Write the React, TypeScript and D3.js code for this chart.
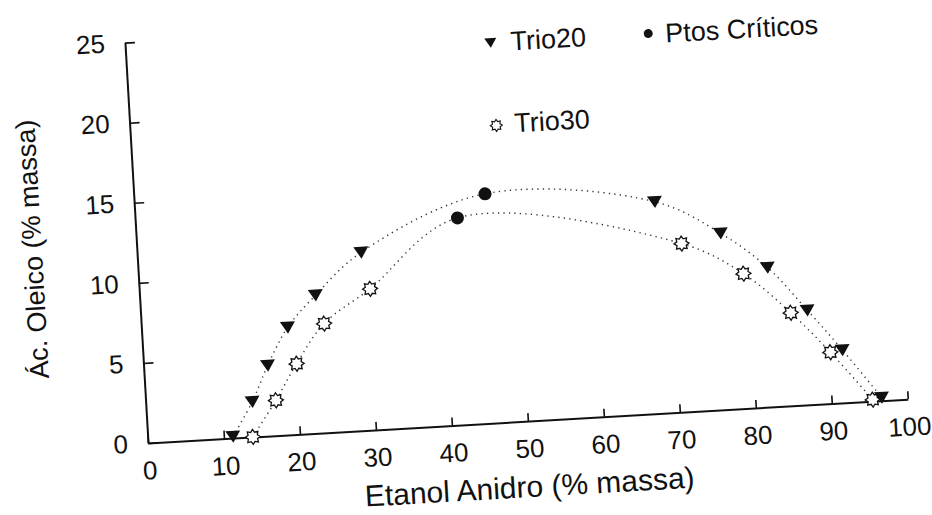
import React, { useEffect, useRef } from 'react';
import * as d3 from 'd3';

// values (% massa)
const trio20X = [11.2, 14.0, 16.3, 19.2, 23.1, 29.4, 68.3, 76.7, 82.6, 87.5, 91.8, 96.6];
const trio20Y = [0.1, 2.2, 4.4, 6.7, 8.6, 11.1, 13.2, 11.0, 8.7, 5.9, 3.3, 0.2];
const trio30X = [13.8, 17.1, 20.1, 24.0, 30.3, 71.5, 79.4, 85.3, 90.2, 95.4];
const trio30Y = [0.0, 2.2, 4.4, 6.8, 8.8, 10.5, 8.4, 5.8, 3.2, 0.1];
// critical points: first belongs to Trio20, second to Trio30
const criticoX = [46.1, 42.3];
const criticoY = [14.3, 12.9];

const xTicks = [0, 10, 20, 30, 40, 50, 60, 70, 80, 90, 100];
const yTicks = [0, 5, 10, 15, 20, 25];

const W = 932;
const H = 515;
const ORIGIN = { x: 148, y: 443 };
const TILT = -3.3; // the scan is slightly rotated
const PLOT_W = 761;
const PLOT_H = 401;
const FONT = '"Liberation Sans", Arial, Helvetica, sans-serif';

type Pt = { x: number; y: number };

const zip = (xs: number[], ys: number[]): Pt[] => xs.map((x, i) => ({ x, y: ys[i] }));

const starPath = (outer: number, inner: number, n = 8) => {
  const pts: [number, number][] = d3.range(n * 2).map(i => [(i * Math.PI) / n, i % 2 ? inner : outer]);
  return d3.lineRadial().curve(d3.curveLinearClosed)(pts) as string;
};

const triPath = (s: number) => `M${-s},${-0.75 * s}L${s},${-0.75 * s}L0,${0.85 * s}Z`;

const Chart = () => {
  const svgRef = useRef<SVGSVGElement>(null);

  useEffect(() => {
    if (!svgRef.current) return;
    const svg = d3.select(svgRef.current);
    svg.selectAll('*').remove();

    const trio20 = zip(trio20X, trio20Y);
    const trio30 = zip(trio30X, trio30Y);
    const criticos = zip(criticoX, criticoY);

    const x = d3.scaleLinear().domain([0, 100]).range([0, PLOT_W]);
    const y = d3.scaleLinear().domain([0, 25]).range([0, -PLOT_H]);

    const g = svg.append('g')
      .attr('transform', `translate(${ORIGIN.x},${ORIGIN.y}) rotate(${TILT})`);

    // axes, ticks pointing inwards
    const xAxis = d3.axisBottom(x).tickValues(xTicks).tickSizeInner(-8).tickSizeOuter(0).tickPadding(18);
    const yAxis = d3.axisLeft(y).tickValues(yTicks).tickSizeInner(-10).tickSizeOuter(0).tickPadding(20);

    const gx = g.append('g').call(xAxis);
    const gy = g.append('g').call(yAxis);
    [gx, gy].forEach(a => {
      a.attr('font-family', FONT).attr('font-size', 26);
      a.select('.domain').attr('stroke', '#111').attr('stroke-width', 2);
      a.selectAll('.tick line').attr('stroke', '#111').attr('stroke-width', 1.6);
      a.selectAll('.tick text').attr('fill', '#111');
    });

    // fitted dotted curves through each series + its critical point
    const line = d3.line<Pt>()
      .x(d => x(d.x))
      .y(d => y(d.y))
      .curve(d3.curveCatmullRom.alpha(0.5));

    const curve20 = [...trio20, criticos[0]].sort((a, b) => a.x - b.x);
    const curve30 = [...trio30, criticos[1]].sort((a, b) => a.x - b.x);

    [curve20, curve30].forEach(c => {
      g.append('path')
        .datum(c)
        .attr('fill', 'none')
        .attr('stroke', '#333')
        .attr('stroke-width', 1.4)
        .attr('stroke-dasharray', '1.3 4.2')
        .attr('d', line);
    });

    const star = starPath(7.5, 5);
    g.append('g').selectAll('path')
      .data(trio30)
      .join('path')
      .attr('transform', d => `translate(${x(d.x)},${y(d.y)})`)
      .attr('d', star)
      .attr('fill', '#fff')
      .attr('stroke', '#111')
      .attr('stroke-width', 1.3);

    g.append('g').selectAll('path')
      .data(trio20)
      .join('path')
      .attr('transform', d => `translate(${x(d.x)},${y(d.y)})`)
      .attr('d', triPath(7.5))
      .attr('fill', '#111');

    g.append('g').selectAll('circle')
      .data(criticos)
      .join('circle')
      .attr('cx', d => x(d.x))
      .attr('cy', d => y(d.y))
      .attr('r', 6.5)
      .attr('fill', '#111');

    // legend
    const legend = g.append('g').attr('font-family', FONT).attr('font-size', 27).attr('fill', '#111');
    legend.append('path').attr('transform', 'translate(365,-380)').attr('d', triPath(6)).attr('fill', '#111');
    legend.append('text').attr('x', 385).attr('y', -371).text('Trio20');
    legend.append('circle').attr('cx', 523).attr('cy', -380).attr('r', 4.5).attr('fill', '#111');
    legend.append('text').attr('x', 540).attr('y', -370).text('Ptos Críticos');
    legend.append('path').attr('transform', 'translate(366,-297)').attr('d', starPath(6, 4)).attr('fill', '#fff').attr('stroke', '#111').attr('stroke-width', 1.1);
    legend.append('text').attr('x', 384).attr('y', -289).text('Trio30');

    // axis titles
    g.append('text')
      .attr('x', PLOT_W / 2 - 2)
      .attr('y', 76)
      .attr('text-anchor', 'middle')
      .attr('font-family', FONT)
      .attr('font-size', 30)
      .attr('fill', '#111')
      .text('Etanol Anidro (% massa)');

    g.append('text')
      .attr('transform', 'translate(-95,-200) rotate(-90)')
      .attr('text-anchor', 'middle')
      .attr('font-family', FONT)
      .attr('font-size', 27)
      .attr('fill', '#111')
      .text('Ác. Oleico (% massa)');
  }, []);

  return (
    <svg
      ref={svgRef}
      width={W}
      height={H}
      style={{ position: 'absolute', left: 0, top: 0, background: '#fff' }}
    />
  );
};

export default function App() {
  return <Chart />;
}
